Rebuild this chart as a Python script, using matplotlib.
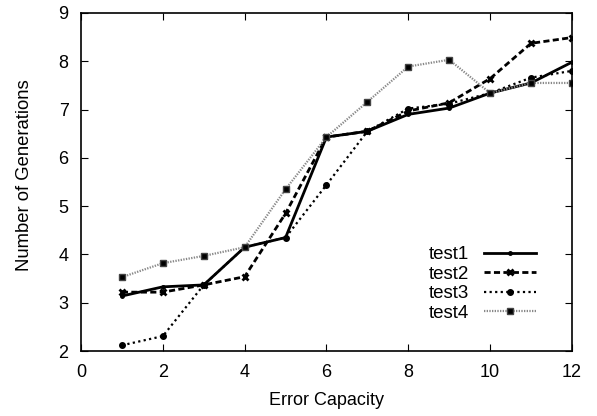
import matplotlib
matplotlib.use("Agg")
import matplotlib.pyplot as plt

plt.rcParams['font.family'] = ['Liberation Sans', 'DejaVu Sans']

x = [1, 2, 3, 4, 5, 6, 7, 8, 9, 10, 11, 12]
test1 = [3.14, 3.33, 3.37, 4.15, 4.35, 6.43, 6.55, 6.90, 7.03, 7.34, 7.55, 7.98]
test2 = [3.22, 3.22, 3.37, 3.54, 4.85, 6.43, 6.55, 6.97, 7.14, 7.64, 8.37, 8.49]
test3 = [2.12, 2.31, 3.37, 4.15, 4.35, 5.44, 6.55, 7.02, 7.12, 7.34, 7.66, 7.80]
test4 = [3.53, 3.82, 3.97, 4.15, 5.35, 6.43, 7.16, 7.89, 8.03, 7.34, 7.55, 7.55]

fig = plt.figure(figsize=(5.97, 4.16), dpi=100)
ax = fig.add_axes([0.1357, 0.156, 0.8223, 0.813])

ax.plot(x, test1, color='black', lw=2.0, ls='-', marker='o', ms=2.5, label='test1')
ax.plot(x, test2, color='black', lw=2.0, ls=(0, (2.2, 1.2)), marker='x', ms=4.5, mew=2, label='test2')
ax.plot(x, test3, color='black', lw=1.6, ls=(0, (1, 1.5)), marker='o', ms=4, label='test3')
ax.plot(x, test4, color='#888888', lw=1.6, ls=(0, (0.6, 0.6)), marker='s', ms=5,
        mfc='black', mec='#444444', label='test4')

ax.set_xlim(0, 12)
ax.set_ylim(2, 9)
ax.set_xticks(range(0, 13, 2))
ax.set_yticks(range(2, 10))
ax.tick_params(direction='in', top=True, right=True, labelsize=13, length=5, pad=9)
for s in ax.spines.values():
    s.set_linewidth(1.2)
ax.set_xlabel('Error Capacity', fontsize=13, labelpad=8)
ax.set_ylabel('Number of Generations', fontsize=13.3, labelpad=18)
ax.yaxis.label.set_y(0.52)

leg = ax.legend(loc='lower right', bbox_to_anchor=(0.943, 0.065), frameon=False,
                markerfirst=False, fontsize=13.5, handlelength=2.8, labelspacing=0.12,
                handletextpad=0.8, borderaxespad=0)

fig.savefig('out.png', dpi=100)
